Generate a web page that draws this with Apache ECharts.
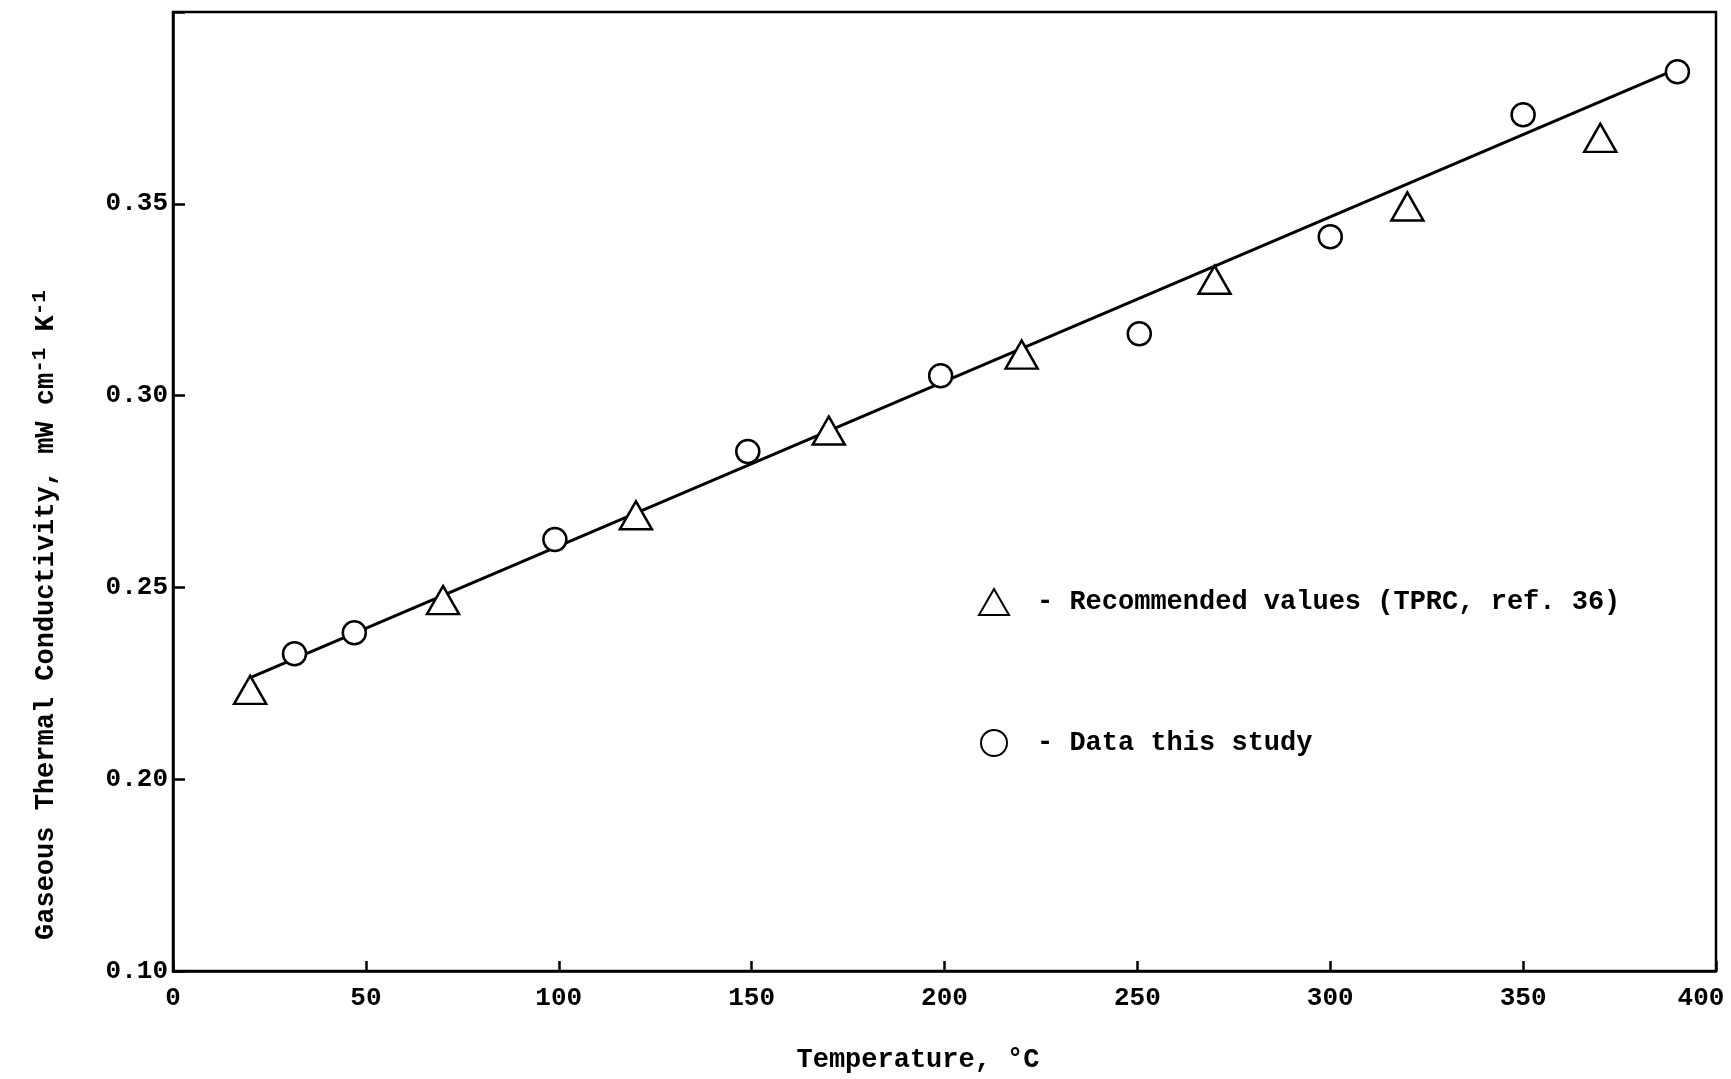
<!DOCTYPE html>
<html lang="en">
<head>
<meta charset="UTF-8" />
<title>Gaseous Thermal Conductivity</title>
<script src="https://cdn.jsdelivr.net/npm/echarts@6/dist/echarts.min.js"></script>
<style>
  html, body { margin: 0; padding: 0; background: #fff; overflow: hidden; }
  #main { width: 100vw; height: 100vh; }
</style>
</head>
<body>
<div id="main"></div>
<script>
// recommended values (TPRC, ref. 36)
var tprcTemp = [20, 70, 120, 170, 220, 270, 320, 370];
var tprcK = [0.2233, 0.2467, 0.2688, 0.2909, 0.3107, 0.3302, 0.3493, 0.3672];
// data this study
var studyTemp = [31.5, 47, 99, 149, 199, 250.5, 300, 350, 390];
var studyK = [0.2327, 0.2382, 0.2625, 0.2854, 0.3052, 0.3161, 0.3414, 0.3732, 0.3844];
// hand drawn line through the points
var fitTemp = [20.5, 389];
var fitK = [0.2267, 0.3848];
// y axis is broken: the lowest tick is labelled 0.10
var yTickLabels = ['0.10', '0.20', '0.25', '0.30', '0.35', ''];

var font = "'Liberation Mono', 'DejaVu Sans Mono', monospace";

function pairs(xs, ys) {
  var out = [];
  for (var i = 0; i < xs.length; i++) out.push([xs[i], ys[i]]);
  return out;
}

var chart = echarts.init(document.getElementById('main'));
chart.setOption({
  animation: false,
  backgroundColor: '#fff',
  grid: {
    left: 173, right: 15, top: 12, bottom: 108,
    outerBoundsMode: 'none',
    show: true, borderColor: '#000', borderWidth: 2.5
  },
  xAxis: {
    type: 'value', min: 0, max: 400, interval: 50,
    axisLine: { lineStyle: { color: '#000', width: 2.5 } },
    axisTick: { inside: true, length: 10, lineStyle: { color: '#000', width: 2.5 } },
    axisLabel: {
      margin: 14, fontSize: 26, fontWeight: 'bold', color: '#000', fontFamily: font,
      // last label sits a little left of its tick, as in the typed original
      formatter: function (v) { return v === 400 ? '{last|' + v + '}' : '' + v; },
      rich: { last: { fontSize: 26, fontWeight: 'bold', color: '#000', fontFamily: font, padding: [0, 30, 0, 0] } }
    },
    splitLine: { show: false }
  },
  yAxis: {
    type: 'value', min: 0.15, max: 0.40, interval: 0.05,
    axisLine: { show: true, lineStyle: { color: '#000', width: 2.5 } },
    axisTick: { show: true, inside: true, length: 12, lineStyle: { color: '#000', width: 2.5 } },
    axisLabel: {
      margin: 5, fontSize: 26, fontWeight: 'bold', color: '#000', fontFamily: font,
      formatter: function (v) { return yTickLabels[Math.round((v - 0.15) / 0.05)]; }
    },
    splitLine: { show: false }
  },
  legend: {
    data: ['Recommended values (TPRC, ref. 36)', 'Data this study'],
    orient: 'vertical',
    left: 973, top: 583,
    itemWidth: 30, itemHeight: 26, itemGap: 113,
    formatter: '- {name}',
    textStyle: { fontSize: 27, fontWeight: 'bold', color: '#000', fontFamily: font, padding: [0, 0, 0, 23] }
  },
  graphic: [
    {
      type: 'text', x: 918, y: 1060,
      style: { text: 'Temperature, °C', font: 'bold 27px ' + font, fill: '#000', align: 'center', verticalAlign: 'middle' }
    },
    {
      type: 'text', x: 46, y: 615, rotation: Math.PI / 2,
      style: {
        text: 'Gaseous Thermal Conductivity, mW cm{sup|-1} K{sup|-1}',
        font: 'bold 27px ' + font, fill: '#000', align: 'center', verticalAlign: 'middle',
        rich: { sup: { fontSize: 21, fontWeight: 'bold', fontFamily: font, fill: '#000', verticalAlign: 'top', padding: [0, 0, 13, 0] } }
      }
    }
  ],
  series: [
    {
      name: 'fit', type: 'line', data: pairs(fitTemp, fitK),
      showSymbol: false, silent: true,
      lineStyle: { color: '#000', width: 3 }, z: 1
    },
    {
      name: 'Recommended values (TPRC, ref. 36)', type: 'scatter',
      data: pairs(tprcTemp, tprcK),
      symbol: 'triangle', symbolSize: [32, 28],
      itemStyle: { color: '#fff', borderColor: '#000', borderWidth: 2.5, opacity: 1 }, z: 3
    },
    {
      name: 'Data this study', type: 'scatter',
      data: pairs(studyTemp, studyK),
      symbol: 'circle', symbolSize: 23, symbolKeepAspect: true,
      itemStyle: { color: '#fff', borderColor: '#000', borderWidth: 2.5, opacity: 1 }, z: 3
    }
  ]
});
</script>
</body>
</html>
